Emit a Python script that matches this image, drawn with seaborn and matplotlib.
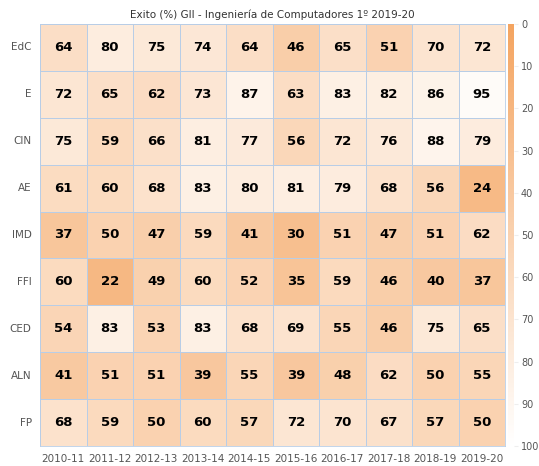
import numpy as np
import pandas as pd
import matplotlib
matplotlib.use("Agg")
import matplotlib.pyplot as plt
import seaborn as sns
from matplotlib.colors import LinearSegmentedColormap

rows = ["EdC", "E", "CIN", "AE", "IMD", "FFI", "CED", "ALN", "FP"]
cols = ["2010-11", "2011-12", "2012-13", "2013-14", "2014-15",
        "2015-16", "2016-17", "2017-18", "2018-19", "2019-20"]
edc = [64, 80, 75, 74, 64, 46, 65, 51, 70, 72]
e = [72, 65, 62, 73, 87, 63, 83, 82, 86, 95]
cin = [75, 59, 66, 81, 77, 56, 72, 76, 88, 79]
ae = [61, 60, 68, 83, 80, 81, 79, 68, 56, 24]
imd = [37, 50, 47, 59, 41, 30, 51, 47, 51, 62]
ffi = [60, 22, 49, 60, 52, 35, 59, 46, 40, 37]
ced = [54, 83, 53, 83, 68, 69, 55, 46, 75, 65]
aln = [41, 51, 51, 39, 55, 39, 48, 62, 50, 55]
fp = [68, 59, 50, 60, 57, 72, 70, 67, 57, 50]

df = pd.DataFrame([edc, e, cin, ae, imd, ffi, ced, aln, fp], index=rows, columns=cols)

cmap = LinearSegmentedColormap.from_list("c", ["#f4a460", "#ffffff"])

fig = plt.figure(figsize=(5.39, 4.66), dpi=100)
ax = fig.add_axes([40/539, 20/466, 465/539, 422/466])
cax = fig.add_axes([508/539, 20/466, 6/539, 422/466])

sns.heatmap(df, ax=ax, cbar_ax=cax, cmap=cmap, vmin=0, vmax=100, annot=True, fmt="d",
            annot_kws={"fontsize": 9.5, "fontweight": "bold", "color": "black"},
            linewidths=0.5, linecolor="#b8cde6")
ax.tick_params(length=0, labelsize=7.5, labelcolor="#555555", pad=6)
ax.set_yticklabels(rows, rotation=0)
ax.set_xticklabels(cols, rotation=0)
ax.set_xlabel("")
ax.set_ylabel("")
ax.set_title("Exito (%) GII - Ingeniería de Computadores 1º 2019-20", fontsize=7.5, color="#333333", pad=4)
for s in ax.spines.values():
    s.set_visible(True)
    s.set_color("#b8cde6")
    s.set_linewidth(0.6)

cax.invert_yaxis()
cax.set_yticks(range(0, 101, 10))
cax.tick_params(labelsize=7, labelcolor="#555555", length=3, color="#eeeeee", pad=2)
for s in cax.spines.values():
    s.set_visible(False)

fig.savefig("out.png", dpi=100)
